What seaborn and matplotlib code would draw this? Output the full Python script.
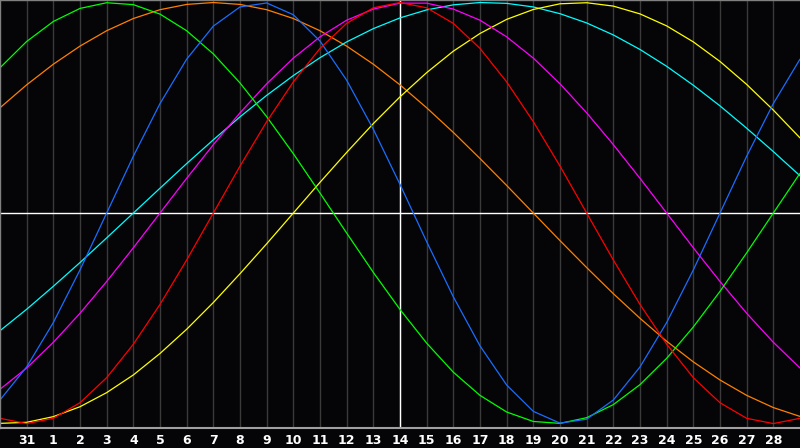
import matplotlib
matplotlib.use("Agg")
import matplotlib.pyplot as plt
import pandas as pd
import seaborn as sns

# day index 0..30 across the chart, labelled days sit on 1..29
days = list(range(31))
tick_pos = list(range(1, 30))
tick_labels = ["31"] + [str(d) for d in range(1, 29)]

# values read at every day line (-1 .. 1)
physical = [-0.888, -0.731, -0.520, -0.270, 0.0, 0.270, 0.520, 0.731, 0.888, 0.979,
            0.998, 0.942, 0.817, 0.631, 0.398, 0.136, -0.136, -0.398, -0.631, -0.817,
            -0.942, -0.998, -0.979, -0.888, -0.731, -0.520, -0.270, 0.0, 0.270, 0.520, 0.731]
emotional = [-0.975, -1.0, -0.975, -0.901, -0.782, -0.623, -0.434, -0.223, 0.0, 0.223,
             0.434, 0.623, 0.782, 0.901, 0.975, 1.0, 0.975, 0.901, 0.782, 0.623,
             0.434, 0.223, 0.0, -0.223, -0.434, -0.623, -0.782, -0.901, -0.975, -1.0, -0.975]
intellectual = [0.690, 0.815, 0.910, 0.972, 0.999, 0.990, 0.945, 0.866, 0.756, 0.618,
                0.458, 0.282, 0.095, -0.095, -0.282, -0.458, -0.618, -0.756, -0.866, -0.945,
                -0.990, -0.999, -0.972, -0.910, -0.815, -0.690, -0.541, -0.372, -0.189, 0.0, 0.189]
aesthetic = [-0.999, -0.994, -0.967, -0.920, -0.853, -0.769, -0.667, -0.552, -0.425, -0.288,
             -0.146, 0.0, 0.146, 0.288, 0.425, 0.552, 0.667, 0.769, 0.853, 0.920,
             0.967, 0.994, 0.999, 0.983, 0.946, 0.889, 0.813, 0.720, 0.611, 0.489, 0.357]
intuitive = [-0.837, -0.736, -0.614, -0.476, -0.325, -0.165, 0.0, 0.165, 0.325, 0.476,
             0.614, 0.736, 0.837, 0.916, 0.969, 0.997, 0.997, 0.969, 0.916, 0.837,
             0.736, 0.614, 0.476, 0.325, 0.165, 0.0, -0.165, -0.325, -0.476, -0.614, -0.736]
spiritual = [-0.559, -0.457, -0.348, -0.235, -0.118, 0.0, 0.118, 0.235, 0.348, 0.457,
             0.559, 0.653, 0.738, 0.813, 0.876, 0.927, 0.965, 0.989, 1.0, 0.996,
             0.979, 0.947, 0.903, 0.846, 0.777, 0.697, 0.607, 0.509, 0.403, 0.292, 0.177]
awareness = [0.500, 0.609, 0.707, 0.793, 0.866, 0.924, 0.966, 0.991, 1.0, 0.991,
             0.966, 0.924, 0.866, 0.793, 0.707, 0.609, 0.500, 0.383, 0.259, 0.131,
             0.0, -0.131, -0.259, -0.383, -0.500, -0.609, -0.707, -0.793, -0.866, -0.924, -0.966]

series = {
    "awareness": awareness,
    "spiritual": spiritual,
    "aesthetic": aesthetic,
    "intuitive": intuitive,
    "intellectual": intellectual,
    "physical": physical,
    "emotional": emotional,
}
kolory = {
    "awareness": "#ff8000",
    "spiritual": "#00ffff",
    "aesthetic": "#ffff00",
    "intuitive": "#ff00ff",
    "intellectual": "#00ff00",
    "physical": "#1a6dff",
    "emotional": "#ff0000",
}

df = pd.concat([pd.DataFrame({"day": days, "value": v, "cycle": k}) for k, v in series.items()])

sns.set_style("dark")
plt.rcParams["font.family"] = ["DejaVu Sans"]

bg = "#050508"
fig = plt.figure(figsize=(8, 4.48), dpi=100, facecolor=bg)
ax = fig.add_axes([0, 20 / 448, 1, 428 / 448])
ax.set_facecolor(bg)

# day grid
for d in tick_pos:
    ax.axvline(d, color="#3a3a3a", lw=1.0, zorder=0)
ax.axvline(15, color="white", lw=1.0, zorder=1)
ax.axhline(0, color="white", lw=1.0, zorder=1)

sns.lineplot(data=df, x="day", y="value", hue="cycle", palette=kolory,
             linewidth=0.9, legend=False, ax=ax, zorder=2)

ax.set_xlim(0, 30)
ax.set_ylim(-1.021, 1.012)
ax.set_xticks(tick_pos)
ax.set_xticklabels(tick_labels, color="white", fontsize=9, fontweight="bold")
ax.tick_params(axis="x", length=0, pad=4)
ax.set_yticks([])
ax.set_xlabel("")
ax.set_ylabel("")
ax.grid(False)

for side in ["left", "top"]:
    ax.spines[side].set_color("#808080")
    ax.spines[side].set_linewidth(1.0)
ax.spines["bottom"].set_color("#a0a0a0")
ax.spines["bottom"].set_linewidth(1.5)
ax.spines["right"].set_visible(False)

fig.savefig("out.png", dpi=100, facecolor=bg)
